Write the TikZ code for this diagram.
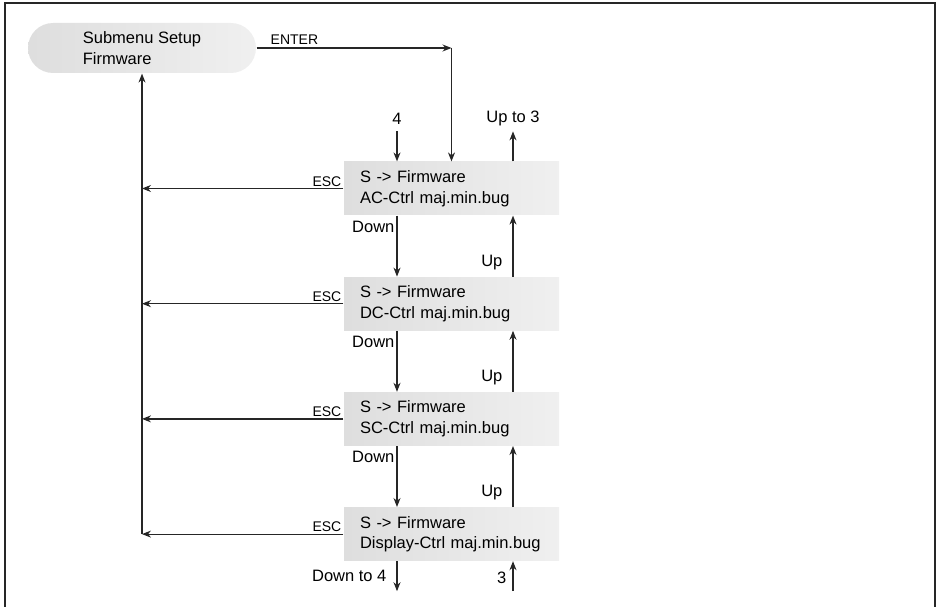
\documentclass[tikz,border=0pt]{standalone}
\usepackage{fontspec}
\setmainfont{Liberation Sans}
\usepackage{tikz}
\usetikzlibrary{arrows.meta, positioning, calc}

\begin{document}
\begin{tikzpicture}[x=1pt,y=-1pt,
  font=\fontsize{16.5}{20.5}\selectfont,
  line width=1.2pt, draw=black!85,
  flow/.style={-{Stealth[length=9pt,width=7pt]}},
  smalltext/.style={font=\fontsize{14}{16}\selectfont, inner sep=1.5pt},
  menubox/.style={rectangle, minimum width=215pt, minimum height=53pt,
    text width=183pt, inner xsep=16pt, align=left,
    left color=black!13, right color=black!6},
  pill/.style={rectangle, rounded corners=25pt, minimum width=228pt,
    minimum height=50pt, align=left,
    left color=black!13, right color=black!6}]
\useasboundingbox (0,0) rectangle (938,607);
\draw[line width=1.3pt] (5,607) |- (935,3) -- (935,607);

% menu entries
\node[pill] (setup) at (142,48) {Submenu Setup\\Firmware};
\node[menubox] (ac) at (451.5,188.5) {S -> Firmware\\AC-Ctrl maj.min.bug};
\node[menubox, below=61pt of ac] (dc) {S -> Firmware\\DC-Ctrl maj.min.bug};
\node[menubox, below=61pt of dc] (sc) {S -> Firmware\\SC-Ctrl maj.min.bug};
\node[menubox, below=61pt of sc] (disp) {S -> Firmware\\Display-Ctrl maj.min.bug};

% ENTER into first entry
\coordinate (enter) at (setup.east -| ac.north);
\draw[flow] (setup.east) -- node[smalltext, pos=0, anchor=south west, xshift=12pt, yshift=1pt] {ENTER} (enter);
\draw[flow] (enter) -- (ac.north);

% ESC back to submenu
\foreach \m in {ac,dc,sc,disp}
  \draw[flow] (\m.west) -- node[smalltext, pos=0, anchor=south east] {ESC} (\m.west -| setup.south);
\coordinate (escbase) at (disp.west -| setup.south);
\draw[flow] (escbase) -- (setup.south);

% Down / Up between entries
\foreach \a/\b in {ac/dc, dc/sc, sc/disp} {
  \draw[flow] ([xshift=-54.5pt]\a.south) -- node[pos=0, anchor=north east, inner sep=2pt, yshift=-3pt] {Down} ([xshift=-54.5pt]\b.north);
  \draw[flow] ([xshift=61.5pt]\b.north) -- node[pos=0, anchor=south east, inner sep=2pt, xshift=-8pt, yshift=4pt] {Up} ([xshift=61.5pt]\a.south);
}

% wrap-around ends
\coordinate (in4) at ($(ac.north)+(-54.5,-30)$);
\coordinate (out3) at ($(ac.north)+(61.5,-30)$);
\coordinate (out4) at ($(disp.south)+(-54.5,30)$);
\coordinate (in3) at ($(disp.south)+(61.5,30)$);
\draw[flow] (in4) node[above, inner sep=2pt, yshift=4pt] {4} -- ([xshift=-54.5pt]ac.north);
\draw[flow] ([xshift=61.5pt]ac.north) -- (out3) node[above, inner sep=2pt, yshift=3pt] {Up to 3};
\draw[flow] ([xshift=-54.5pt]disp.south) -- node[pos=0, anchor=north east, inner sep=2pt, xshift=-8pt, yshift=-6pt] {Down to 4} (out4);
\draw[flow] (in3) -- node[pos=0, anchor=south east, inner sep=2pt, xshift=-4pt, yshift=5pt] {3} ([xshift=61.5pt]disp.south);
\end{tikzpicture}
\end{document}
